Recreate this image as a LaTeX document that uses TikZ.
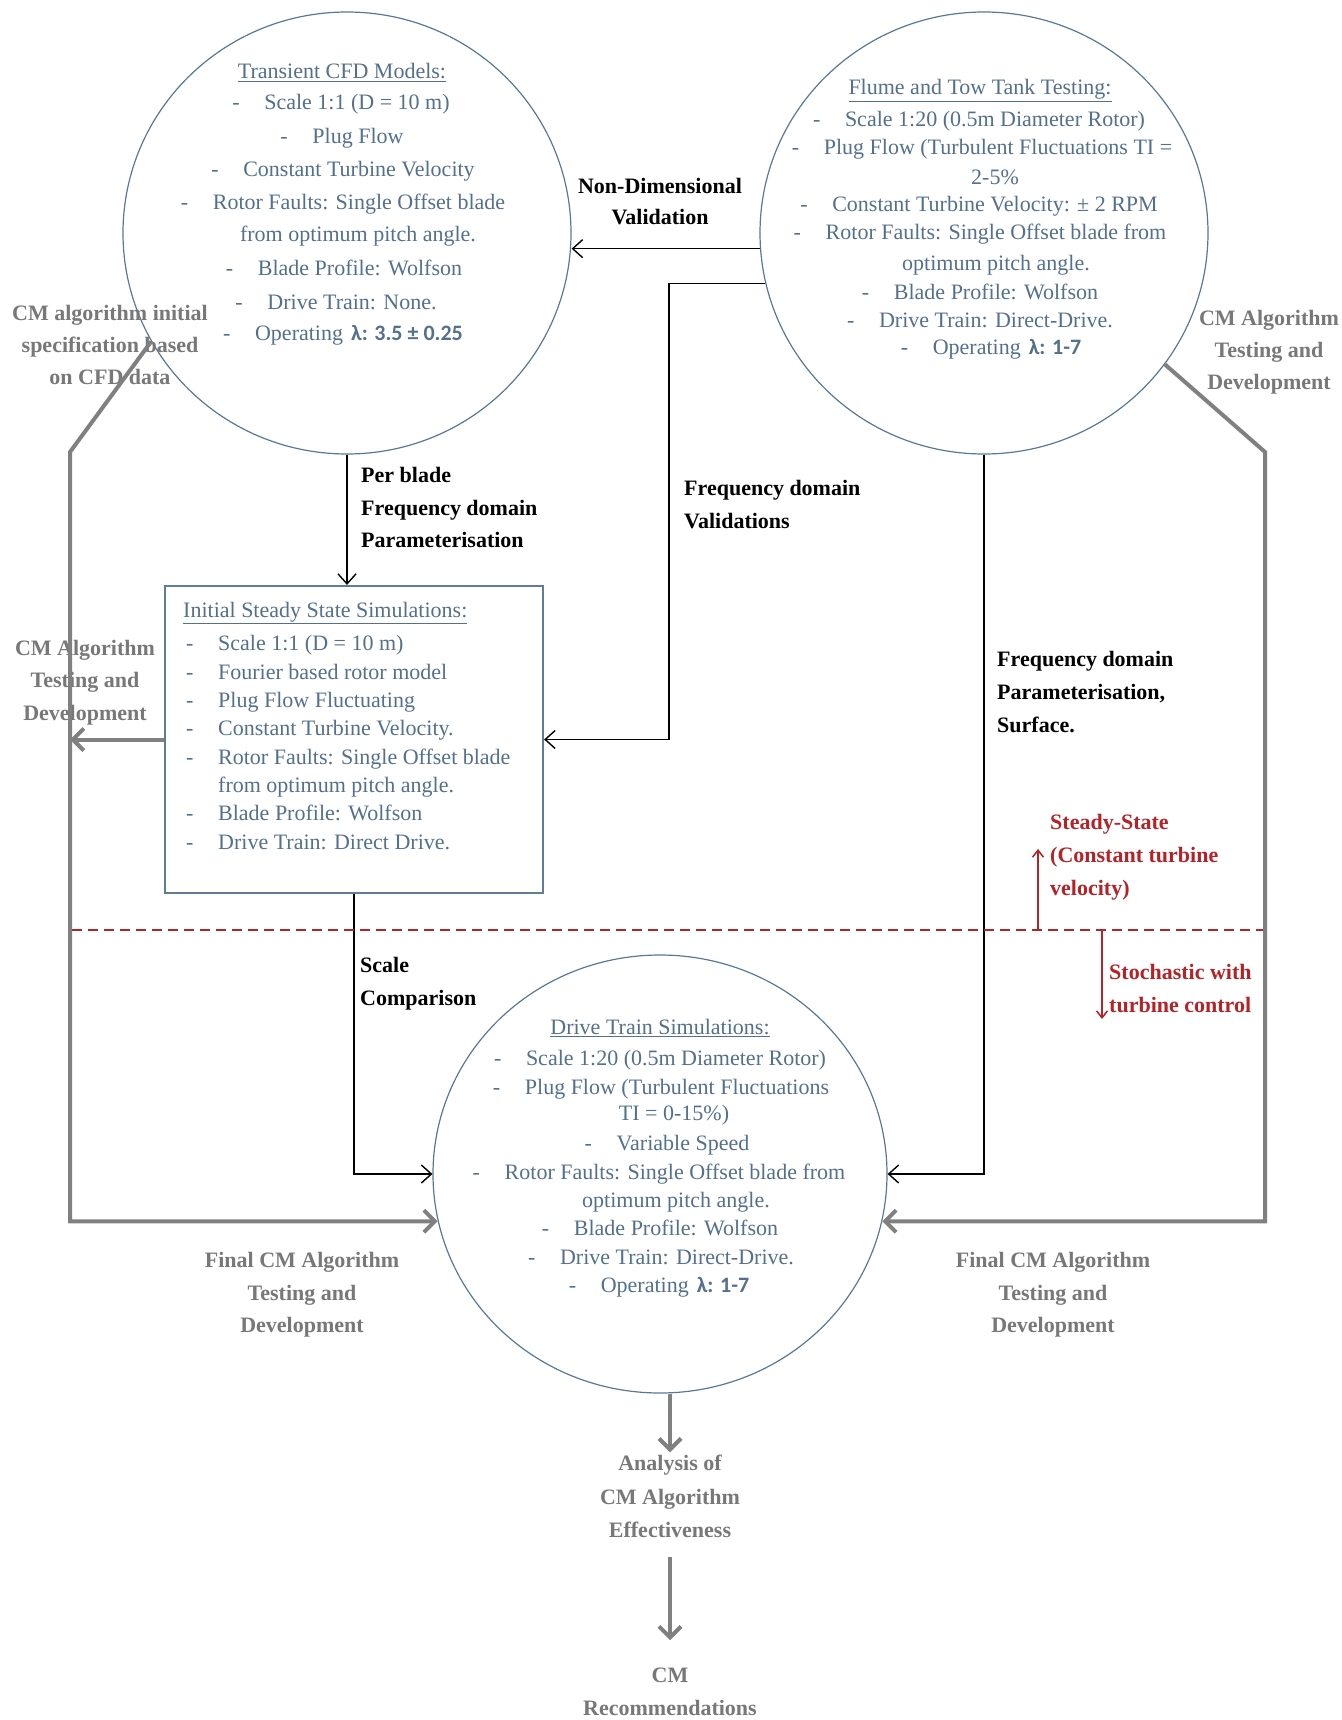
\documentclass[tikz,border=0pt]{standalone}
\usepackage{fontspec}
\setmainfont{Liberation Serif}
\newfontfamily\calib{Carlito}
\usetikzlibrary{arrows.meta,shapes.geometric}
\definecolor{bluetxt}{RGB}{84,112,140}
\definecolor{ellc}{RGB}{90,120,150}
\definecolor{boxc}{RGB}{95,125,150}
\definecolor{grayc}{RGB}{128,128,128}
\definecolor{graytxt}{RGB}{120,120,120}
\definecolor{redc}{RGB}{180,35,40}
\newcommand\mydash{\makebox[32pt][l]{-}}
\newcommand\lam[1]{{\calib\bfseries λ: #1}}
\newcommand\putlines[4]{\foreach \xx/\yy/\mytext [count=\ii] in {#4} {\node[#2,anchor=#3] (#1\ii) at (\xx,\yy) {\mytext};}}
\begin{document}
\begin{tikzpicture}[x=1pt,y=-1pt,
  bt/.style={text=bluetxt, font=\fontsize{22}{26}\selectfont, inner sep=0pt},
  blk/.style={text=black, font=\fontsize{22}{26}\selectfont\bfseries, inner sep=0pt},
  gyt/.style={text=graytxt, font=\fontsize{22}{26}\selectfont\bfseries, inner sep=0pt},
  rdt/.style={text=redc, font=\fontsize{22}{26}\selectfont\bfseries, inner sep=0pt},
  ell/.style={draw=ellc, line width=1.2pt, ellipse, inner sep=0pt},
  barrow/.style={draw=black, line width=1.4pt, -{Straight Barb[length=10pt,width=18pt]}},
  garrow/.style={draw=grayc, line width=4pt, -{Straight Barb[length=11pt,width=22pt]}},
  rarrow/.style={draw=redc, line width=1.5pt, -{Straight Barb[length=7pt,width=11pt]}},
  reddash/.style={draw=redc, line width=2.5pt, dash pattern=on 10pt off 6pt},
]
\fill[white] (0,0) rectangle (1341,1720);
\useasboundingbox (0,0) rectangle (1341,1720);

% main shapes
\node[ell, minimum width=448pt, minimum height=442pt] (E1) at (347,233) {};
\node[ell, minimum width=448pt, minimum height=442pt] (E2) at (984,233) {};
\node[ell, minimum width=454pt, minimum height=438pt] (E3) at (660,1174) {};
\node[draw=boxc, line width=2.2pt, minimum width=378pt, minimum height=307pt, inner sep=0pt] (B) at (354,739.5) {};

% texts in shapes
\putlines{ea}{bt}{base}{342/79/{\underline{Transient CFD Models:}},
341/110/{\mydash Scale 1:1 (D = 10 m)},
342/144/{\mydash Plug Flow},
343/177/{\mydash Constant Turbine Velocity},
343/210/{\mydash Rotor Faults: Single Offset blade},
358/242/{from optimum pitch angle.},
344/275/{\mydash Blade Profile: Wolfson},
336/309/{\mydash Drive Train: None.},
343/340/{\mydash Operating\hspace{8pt}\lam{3.5 ± 0.25}}}

\putlines{eb}{bt}{base}{980/95/{\underline{Flume and Tow Tank Testing:}},
979/127/{\mydash Scale 1:20 (0.5m Diameter Rotor)},
982/155/{\mydash Plug Flow (Turbulent Fluctuations TI =},
995/185/{2-5\%},
979/212/{\mydash Constant Turbine Velocity: ± 2 RPM},
980/240/{\mydash Rotor Faults: Single Offset blade from},
996/270/{optimum pitch angle.},
980/299/{\mydash Blade Profile: Wolfson},
980/327/{\mydash Drive Train: Direct-Drive.},
991/354/{\mydash Operating\hspace{8pt}\lam{1-7}}}

\putlines{ec}{bt}{base}{660/1034/{\underline{Drive Train Simulations:}},
660/1065/{\mydash Scale 1:20 (0.5m Diameter Rotor)},
661/1094/{\mydash Plug Flow (Turbulent Fluctuations},
674/1120/{TI = 0-15\%)},
667/1150/{\mydash Variable Speed},
659/1179/{\mydash Rotor Faults: Single Offset blade from},
676/1207/{optimum pitch angle.},
660/1235/{\mydash Blade Profile: Wolfson},
661/1264/{\mydash Drive Train: Direct-Drive.},
659/1292/{\mydash Operating\hspace{8pt}\lam{1-7}}}

\putlines{bx}{bt}{base west}{183/617/{\underline{Initial Steady State Simulations:}},
186/650/{\mydash Scale 1:1 (D = 10 m)},
186/679/{\mydash Fourier based rotor model},
186/707/{\mydash Plug Flow Fluctuating},
186/735/{\mydash Constant Turbine Velocity.},
186/764/{\mydash Rotor Faults: Single Offset blade},
218/792/{from optimum pitch angle.},
186/820/{\mydash Blade Profile: Wolfson},
186/849/{\mydash Drive Train: Direct Drive.}}

% black labels
\putlines{nd}{blk}{base}{660/194/{Non-Dimensional},660/225/{Validation}}
\putlines{pb}{blk}{base west}{361/482/{Per blade},361/515/{Frequency domain},361/547/{Parameterisation}}
\putlines{fv}{blk}{base west}{684/495/{Frequency domain},684/528/{Validations}}
\putlines{fp}{blk}{base west}{997/666/{Frequency domain},997/699/{Parameterisation,},997/732/{Surface.}}
\putlines{sc}{blk}{base west}{360/972/{Scale},360/1005/{Comparison}}

% gray labels
\putlines{gi}{gyt}{base}{110/320/{CM algorithm initial},110/352/{specification based},110/384/{on CFD data}}
\putlines{gt}{gyt}{base}{1269/325/{CM Algorithm},1269/357/{Testing and},1269/389/{Development}}
\putlines{gl}{gyt}{base}{85/655/{CM Algorithm},85/687/{Testing and},85/720/{Development}}
\putlines{fl}{gyt}{base}{302/1267/{Final CM Algorithm},302/1300/{Testing and},302/1332/{Development}}
\putlines{fr}{gyt}{base}{1053/1267/{Final CM Algorithm},1053/1300/{Testing and},1053/1332/{Development}}
\putlines{an}{gyt}{base}{670/1470/{Analysis of},670/1504/{CM Algorithm},670/1537/{Effectiveness}}
\putlines{rc}{gyt}{base}{670/1682/{CM},670/1715/{Recommendations}}

% red labels
\putlines{rs}{rdt}{base west}{1050/829/{Steady-State},1050/862/{(Constant turbine},1050/895/{velocity)}}
\putlines{rt}{rdt}{base west}{1109/979/{Stochastic with},1109/1012/{turbine control}}

% coordinates
\coordinate (GL) at (70,452);
\coordinate (GR) at (1265,452);
\coordinate (CV) at (669,283);
\coordinate (DL) at (72,930);
\coordinate (DR) at (1263,930);
\coordinate (UA) at (1038,930);
\coordinate (UT) at (1038,849);
\coordinate (DA) at (1102,930);
\coordinate (DT) at (1102,1019);

% black connectors
\draw[barrow] (E2.184) -- (E2.184 -| E1.east);
\draw[barrow] (E2.193) -- (E2.193 -| CV) |- (B.east);
\draw[barrow] (E1.south) -- (E1.south |- B.north);
\draw[barrow] (B.south) |- (E3.west);
\draw[barrow] (E2.south) |- (E3.east);

% gray connectors
\draw[garrow] (E1.209) -- (GL) |- (E3.192);
\draw[garrow] (E2.-36) -- (GR) |- (E3.-12);
\draw[garrow] (B.west) -- (B.west -| GL);
\draw[garrow] (E3.south -| an1) -- ([yshift=2pt]an1.north);
\draw[garrow] ([yshift=-20pt]an3.south) -- ([yshift=27pt]rc1.north);

% red divider
\draw[reddash] (DL) -- (DR);
\draw[rarrow] (UA) -- (UT);
\draw[rarrow] (DA) -- (DT);
\end{tikzpicture}
\end{document}
